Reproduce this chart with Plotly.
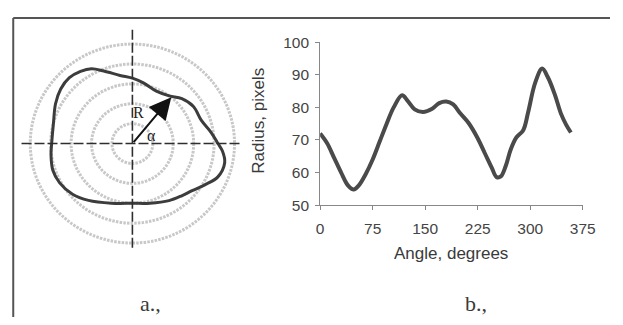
import numpy as np
import plotly.graph_objects as go

# ---- data: panel b (radius vs angle) ----
angle_deg = [0, 10, 20, 30, 40, 48, 55, 65, 75, 85, 95, 105, 117, 125, 135, 147,
             160, 170, 180, 190, 200, 212, 224, 235, 245, 252, 258, 265, 272, 280,
             290, 297, 307, 317, 325, 335, 344, 351, 358]
radius_px = [72, 69, 64.5, 60, 56, 54.8, 56, 59.5, 64, 69.5, 75, 80, 83.7, 82, 79.4, 78.6,
             79.6, 81.3, 81.8, 80.9, 78.2, 75.2, 70.9, 66, 61.5, 58.6, 58.8, 62, 67, 70.7,
             73, 78.5, 87.5, 91.9, 89.3, 84, 78, 74.8, 72.3]
x_ticks = [0, 75, 150, 225, 300, 375]
y_ticks = [50, 60, 70, 80, 90, 100]

# ---- data: panel a (contour outline in polar form) ----
shape_theta = [0, 8, 19, 32, 43, 53, 66, 80, 90, 100, 111, 118, 125, 133, 142, 152, 165,
               180, 188, 199, 209, 221, 233, 251, 270, 286, 302, 313, 321, 330, 338, 348, 355]
shape_r = [88, 82, 75, 74, 69.5, 63, 60.5, 65, 69, 73, 82, 89.5, 93, 95, 93.5, 89.5, 84,
           83, 84.5, 86.5, 85.5, 81.5, 75, 66.5, 63, 65.5, 71, 75, 79, 86.5, 94.5, 97, 93]
ring_r = [21, 42, 63, 84, 105]
arrow_tip = (40, 49)

W, H = 623, 325
cx, cy = 132, 142  # centre of panel a in pixels

th = np.radians(shape_theta + [shape_theta[0]])
rr = np.array(shape_r + [shape_r[0]])
sx = rr * np.cos(th)
sy = rr * np.sin(th)

fig = go.Figure()
fig.add_trace(go.Scatter(x=sx, y=sy, mode="lines", line=dict(color="#3c3c3c", width=3, shape="spline"),
                         xaxis="x", yaxis="y", showlegend=False, hoverinfo="skip"))
fig.add_trace(go.Scatter(x=angle_deg, y=radius_px, mode="lines",
                         line=dict(color="#4a4a4a", width=4, shape="spline"),
                         xaxis="x2", yaxis="y2", showlegend=False))

left_w = 265
shapes = []
for r in ring_r:
    shapes.append(dict(type="circle", xref="x", yref="y", x0=-r, x1=r, y0=-r, y1=r,
                       line=dict(color="#c8c8c8", width=3, dash="2.5px,1.2px"), layer="below"))
shapes.append(dict(type="line", xref="x", yref="y", x0=-114, x1=113, y0=0, y1=0,
                   line=dict(color="#2e2e2e", width=1.6, dash="10px,3px")))
shapes.append(dict(type="line", xref="x", yref="y", x0=0, x1=0, y0=-110, y1=120,
                   line=dict(color="#2e2e2e", width=1.6, dash="10px,3px")))
# frame
shapes.append(dict(type="line", xref="paper", yref="paper", x0=9.5 / W, x1=9.5 / W, y0=0, y1=1 - 9.5 / H,
                   line=dict(color="#555555", width=2)))
shapes.append(dict(type="line", xref="paper", yref="paper", x0=9.5 / W, x1=1, y0=1 - 9.5 / H, y1=1 - 9.5 / H,
                   line=dict(color="#555555", width=2)))

def lab(x, y, text, size, family, **kw):
    return dict(x=x / W, y=1 - y / H, xref="paper", yref="paper", text=text, showarrow=False,
                xanchor="center", yanchor="middle",
                font=dict(family=family, size=size, color="#3a3a3a"), **kw)

annotations = [
    dict(x=arrow_tip[0], y=arrow_tip[1], ax=0, ay=0, xref="x", yref="y", axref="x", ayref="y",
         showarrow=True, arrowhead=2, arrowsize=2.2, arrowwidth=2, arrowcolor="#111111", text=""),
    dict(x=6, y=33, xref="x", yref="y", text="R", showarrow=False, xanchor="center", yanchor="middle",
         font=dict(family="Liberation Serif", size=16, color="#222222")),
    dict(x=20, y=8, xref="x", yref="y", text="α", showarrow=False, xanchor="center", yanchor="middle",
         font=dict(family="Liberation Serif", size=16, color="#222222")),
    lab(151, 311, "a.,", 22, "Liberation Serif"),
    lab(485, 311, "b.,", 22, "Liberation Serif"),
    lab(262, 118, "Radius, pixels", 17, "Liberation Sans", textangle=-90),
    lab(460, 258, "Angle, degrees", 17, "Liberation Sans"),
]

fig.update_layout(
    width=W, height=H, margin=dict(l=0, r=0, t=0, b=0),
    paper_bgcolor="white", plot_bgcolor="rgba(0,0,0,0)",
    xaxis=dict(domain=[0, left_w / W], range=[-cx, left_w - cx], visible=False, fixedrange=True),
    yaxis=dict(domain=[0, 1], range=[-(H - cy), cy], visible=False, fixedrange=True),
    xaxis2=dict(domain=[325 / W, 595 / W], range=[0, 375], anchor="y2", tickvals=x_ticks,
                showgrid=False, zeroline=False, showline=True, linecolor="#888888", linewidth=1,
                ticks="outside", ticklen=4, tickcolor="#888888", ticklabelstandoff=5,
                tickfont=dict(family="Liberation Sans", size=15.5, color="#444444")),
    yaxis2=dict(domain=[1 - 207 / H, 1 - 35 / H], range=[50, 100], anchor="x2", tickvals=y_ticks,
                showgrid=False, zeroline=False, showline=True, linecolor="#888888", linewidth=1,
                ticks="outside", ticklen=4, tickcolor="#888888", ticklabelstandoff=3,
                tickfont=dict(family="Liberation Sans", size=15.5, color="#444444")),
    shapes=shapes, annotations=annotations, showlegend=False, hovermode=False,
)

post = ("document.documentElement.style.margin='0';document.documentElement.style.overflow='hidden';"
        "document.body.style.margin='0';document.body.style.padding='0';document.body.style.overflow='hidden';"
        "var d=document.getElementById('{plot_id}');d.style.position='fixed';d.style.left='0px';d.style.top='0px';")
fig.write_html("out.html", config={"displayModeBar": False, "responsive": False}, post_script=post)
